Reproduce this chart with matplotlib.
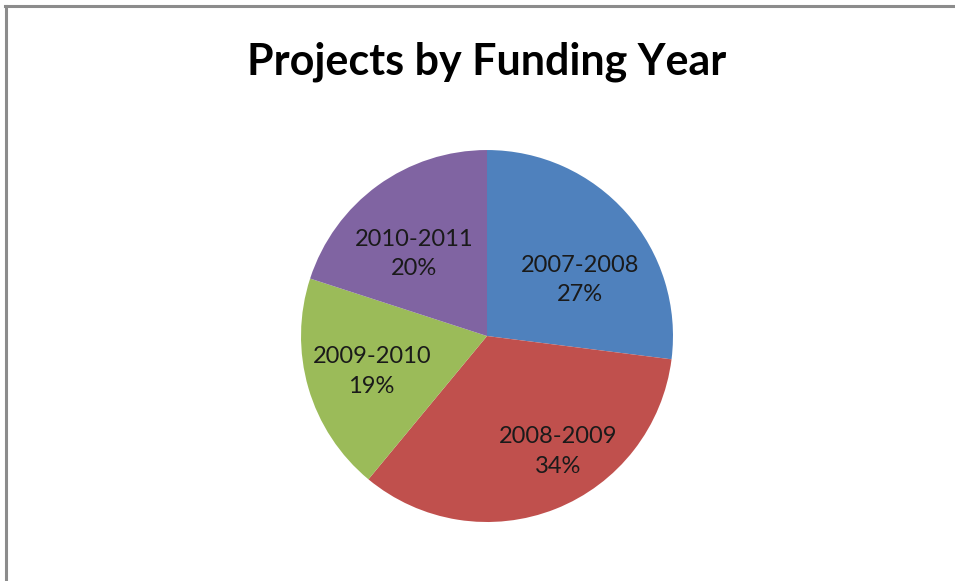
import matplotlib.pyplot as plt
from matplotlib.lines import Line2D

# funding share per year
years = ["2007-2008", "2008-2009", "2009-2010", "2010-2011"]
shares = [27, 34, 19, 20]
colors = ["#4F81BD", "#C0504D", "#9BBB59", "#8064A2"]
# where each label sits inside its slice (unit radius)
label_pos = [(0.50, 0.30), (0.38, -0.62), (-0.62, -0.19), (-0.39, 0.44)]

fig = plt.figure(figsize=(9.55, 5.81), dpi=100)
ax = fig.add_axes([0.3152, 0.1015, 0.3895, 0.6403])

wedges, _ = ax.pie(shares, colors=colors, startangle=90, counterclock=False,
                   radius=1, wedgeprops=dict(linewidth=0))
ax.set_xlim(-1, 1)
ax.set_ylim(-1, 1)

for name, val, (x, y) in zip(years, shares, label_pos):
    ax.text(x, y, f"{name}\n{val}%", ha="center", va="center",
            fontsize=17, family="Lato", color="#1a1a1a", linespacing=1.5)

fig.text(0.51, 0.893, "Projects by Funding Year", ha="center", va="center",
         fontsize=31, family="Lato", fontweight="bold", color="black")

# frame edges along top and left
fig.add_artist(Line2D([5 / 955, 1], [575 / 581, 575 / 581], color="#8c8c8c", lw=2.2))
fig.add_artist(Line2D([6 / 955, 6 / 955], [0, 575 / 581], color="#8c8c8c", lw=2.2))

fig.savefig("out.png", dpi=100)
